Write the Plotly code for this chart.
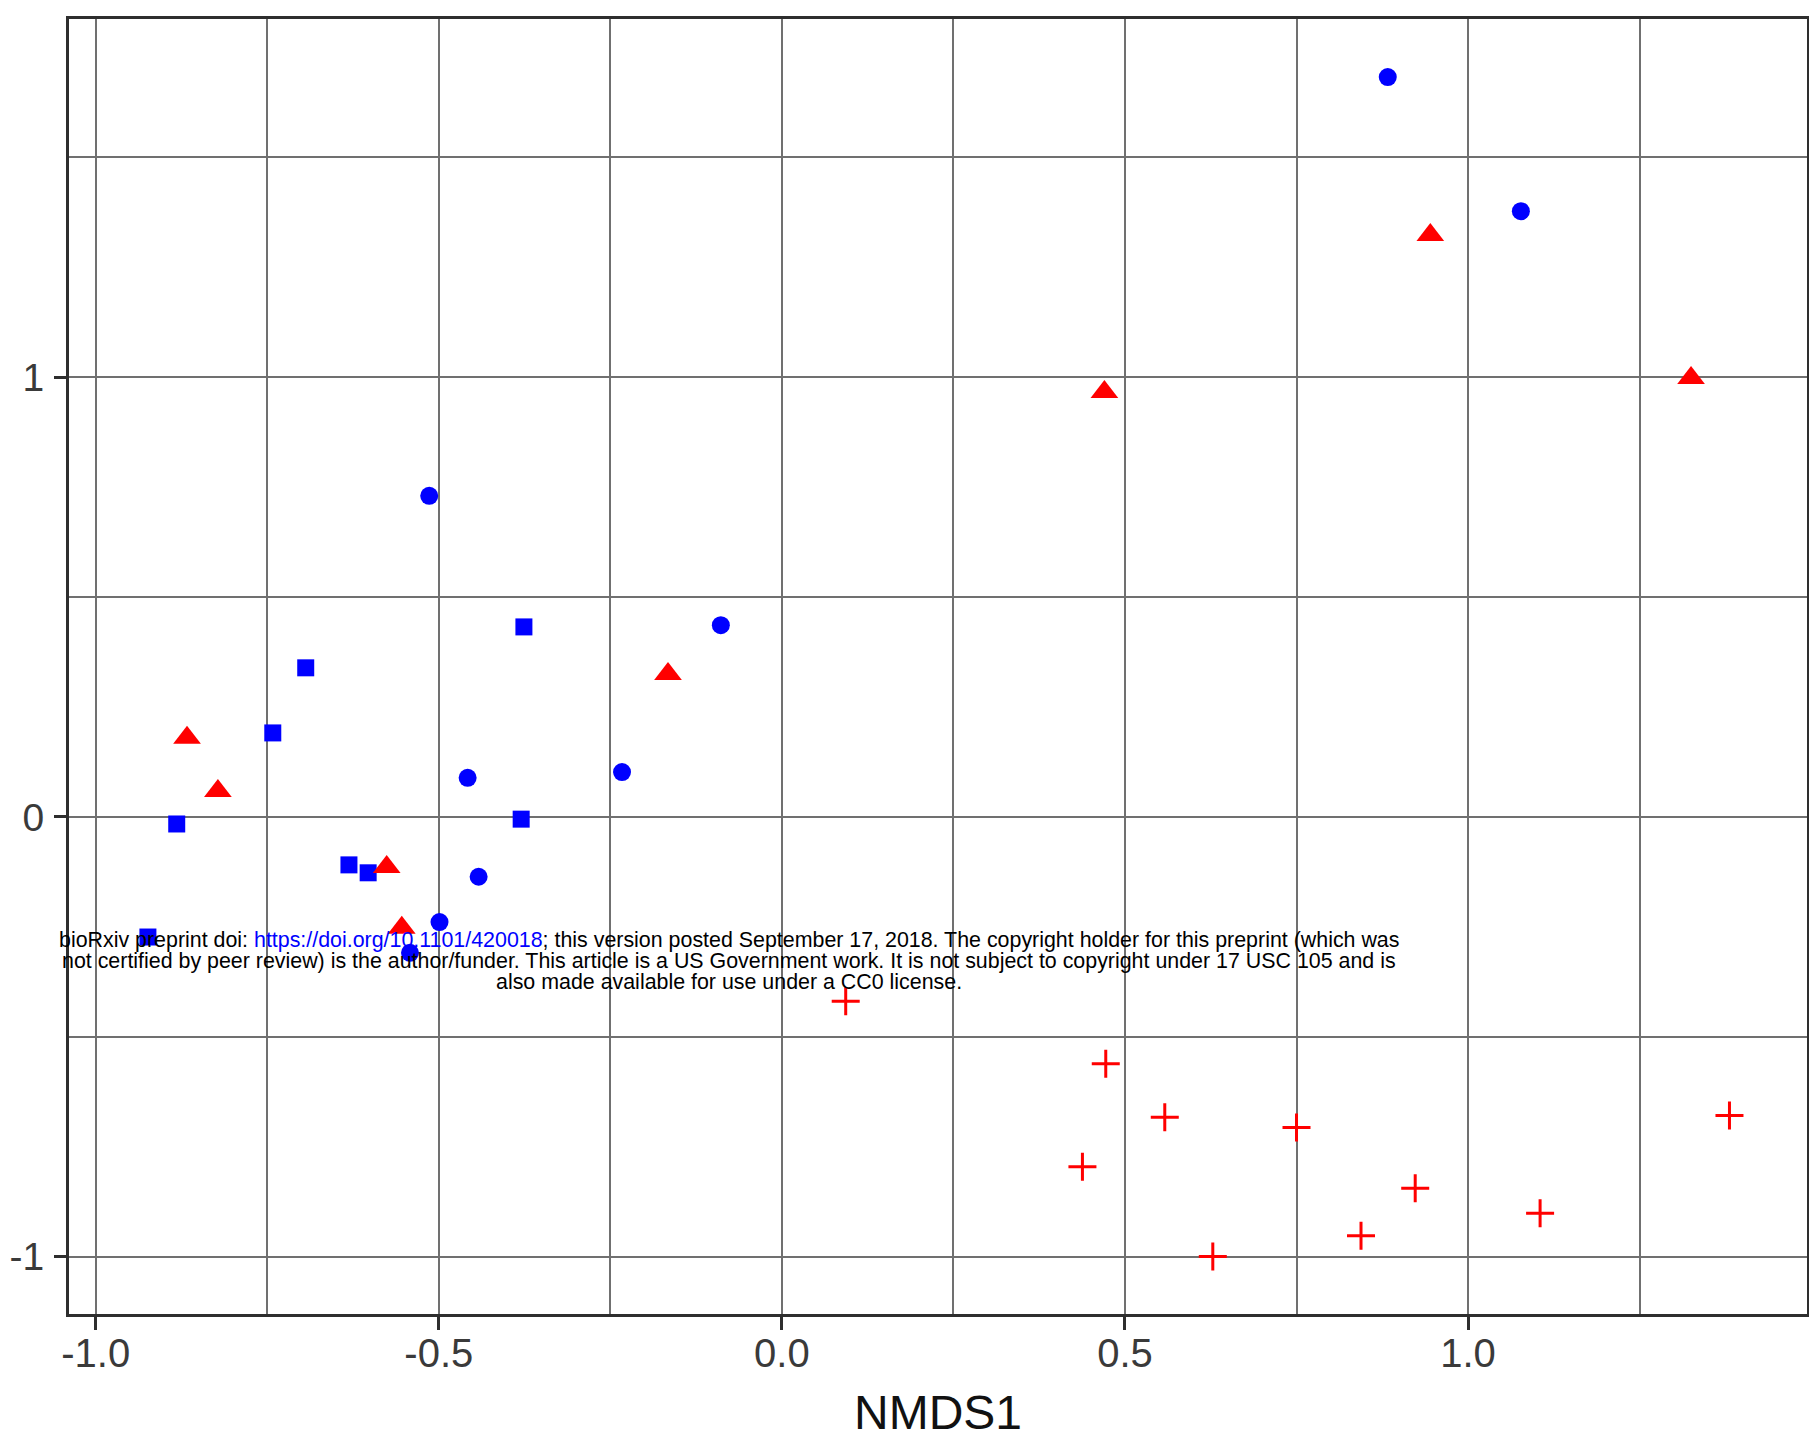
import plotly.graph_objects as go

# ---- data (NMDS1, NMDS2) ----
circle_x = [0.883, 1.077, -0.514, -0.089, -0.233, -0.458, -0.442, -0.499, -0.542]
circle_y = [1.682, 1.377, 0.730, 0.436, 0.102, 0.089, -0.136, -0.239, -0.309]

square_x = [-0.376, -0.694, -0.742, -0.882, -0.380, -0.631, -0.603, -0.924]
square_y = [0.432, 0.339, 0.191, -0.016, -0.005, -0.109, -0.127, -0.273]

triangle_x = [-0.867, -0.822, -0.576, -0.554, -0.166, 0.470, 0.945, 1.325]
triangle_y = [0.180, 0.059, -0.114, -0.252, 0.325, 0.966, 1.323, 0.998]

cross_x = [0.093, 0.472, 0.558, 0.750, 0.438, 0.923, 1.105, 0.844, 0.628, 1.381]
cross_y = [-0.419, -0.561, -0.683, -0.706, -0.795, -0.844, -0.901, -0.952, -0.999, -0.679]

x_tick_vals = [-1.0, -0.5, 0.0, 0.5, 1.0]
x_tick_text = ["-1.0", "-0.5", "0.0", "0.5", "1.0"]
y_tick_vals = [-1, 0, 1]
y_tick_text = ["-1", "0", "1"]

notice_lines = [
    "bioRxiv preprint doi: <span style='color:#0000ff'>https://doi.org/10.1101/420018</span>; this version posted September 17, 2018. The copyright holder for this preprint (which was",
    "not certified by peer review) is the author/funder. This article is a US Government work. It is not subject to copyright under 17 USC 105 and is",
    "also made available for use under a CC0 license.",
]

FONT = "Liberation Sans, Arial, sans-serif"
BLUE = "#0000ff"
RED = "#ff0000"

fig = go.Figure()
fig.add_trace(go.Scatter(x=square_x, y=square_y, mode="markers",
                         marker=dict(symbol="square", size=17, color=BLUE, line=dict(width=0))))
fig.add_trace(go.Scatter(x=circle_x, y=circle_y, mode="markers",
                         marker=dict(symbol="circle", size=18, color=BLUE, line=dict(width=0))))
fig.add_trace(go.Scatter(x=triangle_x, y=triangle_y, mode="markers",
                         marker=dict(symbol="triangle-up", size=24, color=RED, line=dict(width=0))))
fig.add_trace(go.Scatter(x=cross_x, y=cross_y, mode="markers",
                         marker=dict(symbol="cross-thin", size=20, color=RED,
                                     line=dict(width=3, color=RED))))

L, R, T, B = 69, 2, 19, 138
W, H = 1809, 1452
pw, ph = W - L - R, H - T - B

def px_x(p):
    return (p - L) / pw

def px_y(p):
    return (H - B - p) / ph

line_centers = [940, 961, 982]
for txt, yc in zip(notice_lines, line_centers):
    fig.add_annotation(text=txt, x=px_x(729), y=px_y(yc), xref="paper", yref="paper",
                       xanchor="center", yanchor="middle", showarrow=False,
                       font=dict(family=FONT, size=21.4, color="#000000"))

grid_col = "#707070"
axis_col = "#2e2e2e"

fig.update_layout(
    width=W, height=H,
    margin=dict(l=L, r=R, t=T, b=B),
    paper_bgcolor="white", plot_bgcolor="white",
    showlegend=False,
    font=dict(family=FONT),
    xaxis=dict(
        range=[-1.039, 1.494],
        tickvals=x_tick_vals, ticktext=x_tick_text,
        showgrid=True, gridcolor=grid_col, gridwidth=2,
        minor=dict(dtick=0.25, tick0=0, showgrid=True, gridcolor=grid_col, gridwidth=2, ticks=""),
        zeroline=False,
        showline=True, mirror=True, linecolor=axis_col, linewidth=3,
        ticks="outside", ticklen=13, tickwidth=3, tickcolor=axis_col,
        tickfont=dict(family=FONT, size=40, color="#3a3a3a"),
        ticklabelstandoff=-11,
        title=dict(text="NMDS1", font=dict(family=FONT, size=48, color="#111111"), standoff=22),
        automargin=False,
    ),
    yaxis=dict(
        range=[-1.130, 1.814],
        tickvals=y_tick_vals, ticktext=y_tick_text,
        showgrid=True, gridcolor=grid_col, gridwidth=2,
        minor=dict(dtick=0.5, tick0=0, showgrid=True, gridcolor=grid_col, gridwidth=2, ticks=""),
        zeroline=False,
        showline=True, mirror=True, linecolor=axis_col, linewidth=3,
        ticks="outside", ticklen=12, tickwidth=3, tickcolor=axis_col,
        tickfont=dict(family=FONT, size=39, color="#3a3a3a"),
        ticklabelstandoff=2,
        automargin=False,
    ),
)

fig.write_html("out.html")
